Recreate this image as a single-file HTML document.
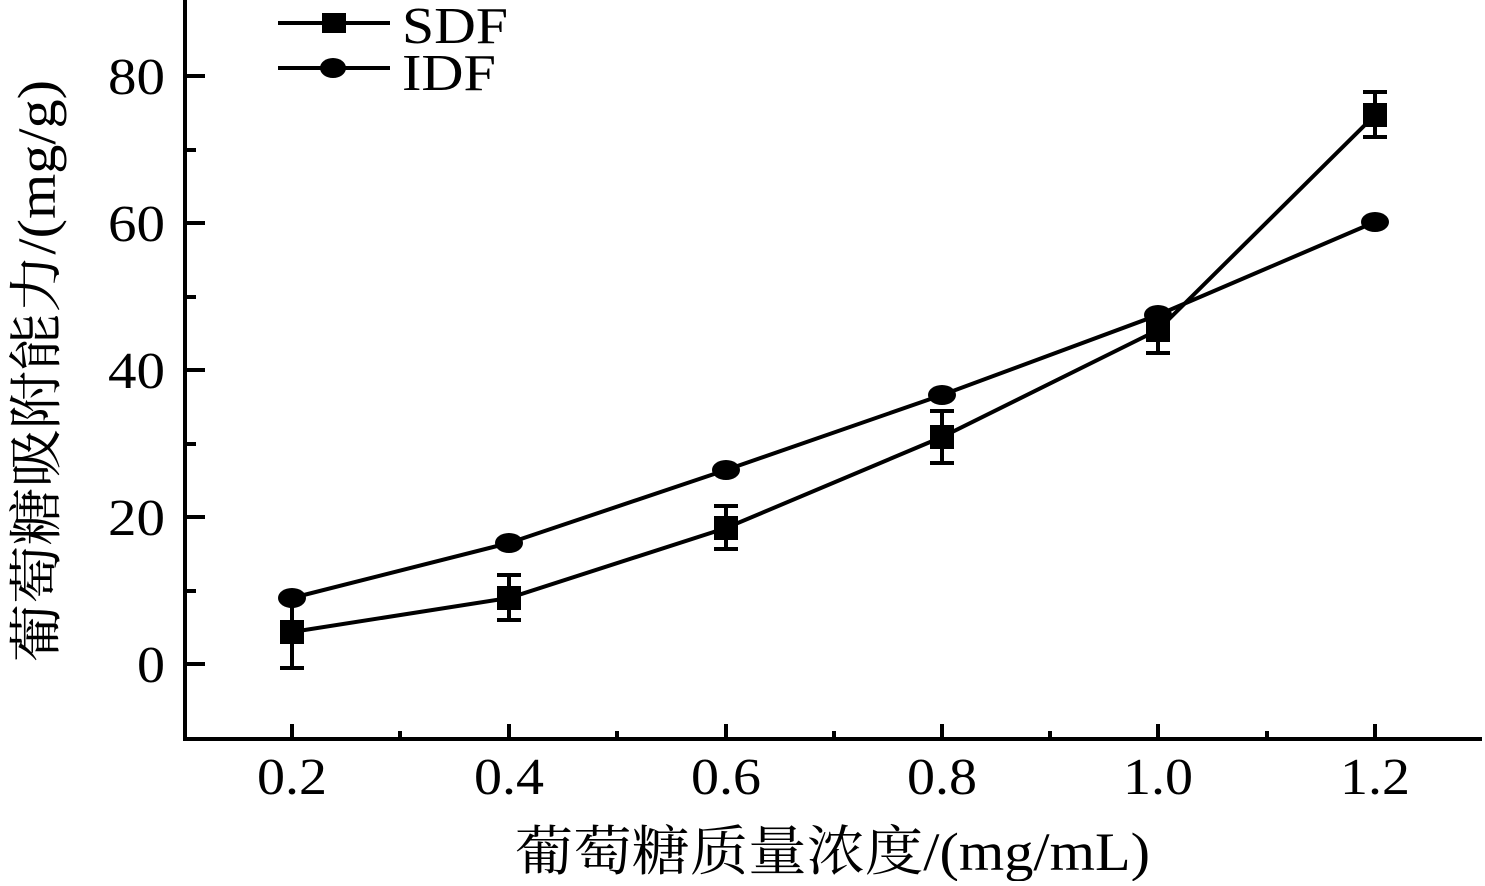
<!DOCTYPE html>
<html><head><meta charset="utf-8"><style>body{margin:0;background:#fff}</style></head>
<body>
<svg width="1485" height="881" viewBox="0 0 1485 881" xmlns="http://www.w3.org/2000/svg" font-family="'Liberation Serif','Noto Serif CJK SC',serif">
<g stroke="#000" stroke-width="4" fill="none">
<path d="M185 0 V739 H1482"/>
<path d="M185 76 H205 M185 223 H205 M185 370 H205 M185 517 H205 M185 664 H205"/>
<path d="M185 150 H196 M185 297 H196 M185 444 H196 M185 591 H196"/>
<path d="M292 739 V724 M509 739 V724 M726 739 V724 M942 739 V724 M1158 739 V724 M1375 739 V724"/>
<path d="M400 739 V731 M617 739 V731 M834 739 V731 M1050 739 V731 M1267 739 V731"/>
<path d="M292 668 V600 M280 668 H304 M509 575 V620 M497 575 H521 M497 620 H521 M726 506 V549 M714 506 H738 M714 549 H738 M942 411 V463 M930 411 H954 M930 463 H954 M1158 313 V353 M1146 353 H1170 M1375 92 V137 M1363 92 H1387 M1363 137 H1387"/>
<polyline points="292,632 509,598 726,528 942,437 1158,330 1375,115"/>
<polyline points="292,598 509,543 726,470 942,395 1158,315 1375,222"/>
<path d="M278 23 H390 M278 68 H390"/>
</g>
<g fill="#000">
<rect x="280" y="620" width="24" height="24"/><rect x="497" y="586" width="24" height="24"/><rect x="714" y="516" width="24" height="24"/><rect x="930" y="425" width="24" height="24"/><rect x="1146" y="318" width="24" height="24"/><rect x="1363" y="103" width="24" height="24"/>
<ellipse cx="292" cy="598" rx="14" ry="10"/><ellipse cx="509" cy="543" rx="14" ry="10"/><ellipse cx="726" cy="470" rx="14" ry="10"/><ellipse cx="942" cy="395" rx="14" ry="10"/><ellipse cx="1158" cy="315" rx="14" ry="10"/><ellipse cx="1375" cy="222" rx="14" ry="10"/>
<rect x="322" y="13" width="24" height="20"/><ellipse cx="333" cy="68" rx="13" ry="10"/>
<g font-size="52">
<text x="402" y="43" textLength="106" lengthAdjust="spacingAndGlyphs">SDF</text><text x="402" y="90" textLength="94" lengthAdjust="spacingAndGlyphs">IDF</text>
</g>
<g font-size="52">
<text x="108" y="94" textLength="57" lengthAdjust="spacingAndGlyphs">80</text><text x="108" y="241" textLength="57" lengthAdjust="spacingAndGlyphs">60</text><text x="108" y="388" textLength="57" lengthAdjust="spacingAndGlyphs">40</text><text x="108" y="535" textLength="57" lengthAdjust="spacingAndGlyphs">20</text><text x="137" y="682" textLength="28" lengthAdjust="spacingAndGlyphs">0</text>
</g>
<g font-size="52">
<text x="257" y="794" textLength="70" lengthAdjust="spacingAndGlyphs">0.2</text><text x="474" y="794" textLength="70" lengthAdjust="spacingAndGlyphs">0.4</text><text x="691" y="794" textLength="70" lengthAdjust="spacingAndGlyphs">0.6</text><text x="907" y="794" textLength="70" lengthAdjust="spacingAndGlyphs">0.8</text><text x="1123" y="794" textLength="70" lengthAdjust="spacingAndGlyphs">1.0</text><text x="1340" y="794" textLength="70" lengthAdjust="spacingAndGlyphs">1.2</text>
<text x="515" y="870" font-size="54" textLength="635" lengthAdjust="spacingAndGlyphs">葡萄糖质量浓度/(mg/mL)</text>
<text transform="translate(55,662) rotate(-90)" font-size="54" textLength="582" lengthAdjust="spacingAndGlyphs">葡萄糖吸附能力/(mg/g)</text>
</g>
</g>
</svg>
</body></html>
